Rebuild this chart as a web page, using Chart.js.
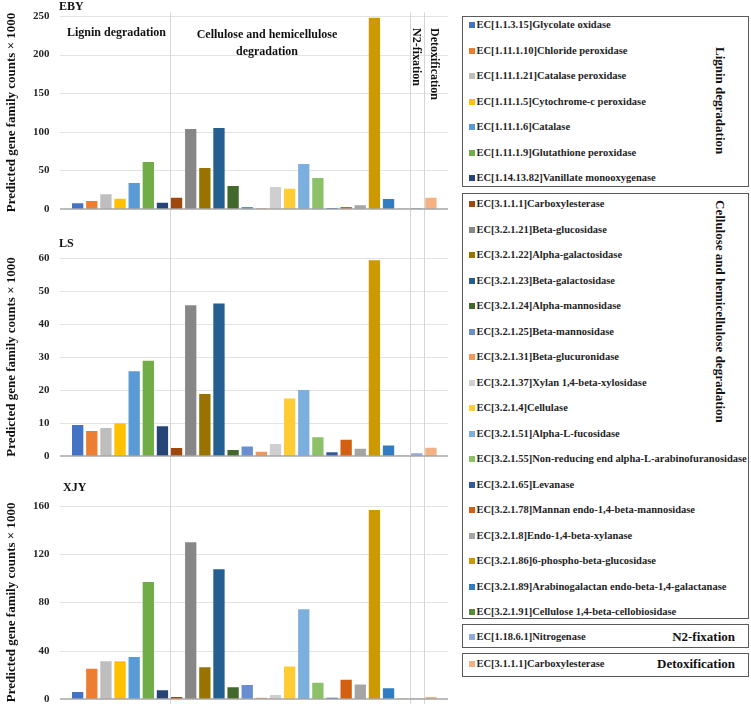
<!DOCTYPE html>
<html>
<head>
<meta charset="utf-8">
<script src="https://cdn.jsdelivr.net/npm/chart.js@4.4.0/dist/chart.umd.min.js"></script>
<style>
  body { margin: 0; background: #fff; width: 751px; height: 704px; position: relative; overflow: hidden; font-family: "Liberation Serif", "Times New Roman", serif; }
  .panel { position: absolute; left: 0; }
  .box { position: absolute; border: 1.3px solid #595959; box-sizing: border-box; }
  .item { position: absolute; height: 12px; line-height: 12px; font-size: 10.5px; font-weight: bold; color: #1f1f1f; white-space: nowrap; }
  .sq { position: absolute; width: 6px; height: 6px; }
  .glabel { position: absolute; font-size: 13px; font-weight: bold; color: #111; white-space: nowrap; line-height: 13px; }
  .vert { writing-mode: vertical-rl; }
</style>
</head>
<body>
<div class="panel" style="top:0"><canvas id="chartEBY" width="455" height="220"></canvas></div>
<div class="panel" style="top:220px"><canvas id="chartLS" width="455" height="240"></canvas></div>
<div class="panel" style="top:460px"><canvas id="chartXJY" width="455" height="244"></canvas></div>
<div id="legend"></div>

<script>
// enzyme categories (x axis order), grouped by function
const ligninEnzymes = [
  'EC[1.1.3.15]Glycolate oxidase',
  'EC[1.11.1.10]Chloride peroxidase',
  'EC[1.11.1.21]Catalase peroxidase',
  'EC[1.11.1.5]Cytochrome-c peroxidase',
  'EC[1.11.1.6]Catalase',
  'EC[1.11.1.9]Glutathione peroxidase',
  'EC[1.14.13.82]Vanillate monooxygenase'
];
const celluloseEnzymes = [
  'EC[3.1.1.1]Carboxylesterase',
  'EC[3.2.1.21]Beta-glucosidase',
  'EC[3.2.1.22]Alpha-galactosidase',
  'EC[3.2.1.23]Beta-galactosidase',
  'EC[3.2.1.24]Alpha-mannosidase',
  'EC[3.2.1.25]Beta-mannosidase',
  'EC[3.2.1.31]Beta-glucuronidase',
  'EC[3.2.1.37]Xylan 1,4-beta-xylosidase',
  'EC[3.2.1.4]Cellulase',
  'EC[3.2.1.51]Alpha-L-fucosidase',
  'EC[3.2.1.55]Non-reducing end alpha-L-arabinofuranosidase',
  'EC[3.2.1.65]Levanase',
  'EC[3.2.1.78]Mannan endo-1,4-beta-mannosidase',
  'EC[3.2.1.8]Endo-1,4-beta-xylanase',
  'EC[3.2.1.86]6-phospho-beta-glucosidase',
  'EC[3.2.1.89]Arabinogalactan endo-beta-1,4-galactanase',
  'EC[3.2.1.91]Cellulose 1,4-beta-cellobiosidase'
];
const n2Enzymes = ['EC[1.18.6.1]Nitrogenase'];
const detoxEnzymes = ['EC[3.1.1.1]Carboxylesterase'];

const groupNames = ['Lignin degradation', 'Cellulose and hemicellulose degradation', 'N2-fixation', 'Detoxification'];
const groupLists = [ligninEnzymes, celluloseEnzymes, n2Enzymes, detoxEnzymes];
const categories = [].concat(ligninEnzymes, celluloseEnzymes, n2Enzymes, detoxEnzymes);

// predicted gene family counts x 1000
const ebyValues = [7.3, 10.4, 19, 13.4, 33.7, 60.9, 8.2,
  14.7, 103.6, 53.1, 104.9, 29.8, 2.6, 0.9, 28.5, 26.3, 58.3, 40.2, 1.3, 2.6, 4.7, 247.8, 13, 0.3,
  1.2, 14.7];
const lsValues = [9.4, 7.6, 8.5, 9.9, 25.7, 28.9, 9.0,
  2.4, 45.7, 18.8, 46.2, 1.8, 2.9, 1.3, 3.6, 17.4, 20.0, 5.7, 1.1, 4.9, 2.2, 59.3, 3.2, 0.1,
  0.8, 2.5];
const xjyValues = [5.8, 25.1, 31.2, 31.2, 34.8, 96.8, 7.2,
  1.7, 129.7, 26.2, 107.3, 9.7, 11.6, 1.1, 3.3, 26.8, 74.2, 13.5, 1.1, 16, 12.1, 156.4, 8.8, 0.2,
  0.5, 1.7];

const ebyTicks = [0, 50, 100, 150, 200, 250];
const lsTicks = [0, 10, 20, 30, 40, 50, 60];
const xjyTicks = [0, 40, 80, 120, 160];

const barColors = [
  '#4472C4', '#ED7D31', '#BEBEBE', '#FFC000', '#5B9BD5', '#70AD47', '#264478',
  '#9E480E', '#878787', '#997300', '#255E91', '#43682B', '#698ED0', '#F1975A',
  '#CFCFCF', '#FFCD33', '#7CAFDD', '#8CC168', '#335AA1', '#D26012', '#A5A5A5',
  '#CC9A00', '#327DC2', '#5A8A39',
  '#8FAADC',
  '#F4B183'
];

const FONT = '"Liberation Serif", "Times New Roman", serif';

function hline(ctx, x1, x2, y) {
  ctx.beginPath(); ctx.moveTo(x1, y); ctx.lineTo(x2, y); ctx.stroke();
}

const panelDecor = {
  id: 'panelDecor',
  beforeDatasetsDraw(chart, args, opts) {
    const { ctx, chartArea: a, scales: { x, y } } = chart;
    ctx.save();
    ctx.strokeStyle = '#E3E3E3';
    ctx.lineWidth = 1;
    y.ticks.forEach(t => {
      if (t.value === 0) return;
      hline(ctx, a.left - 10.6, a.right + 10, Math.round(y.getPixelForValue(t.value)) + 0.5);
    });
    // separators between the functional groups
    ctx.strokeStyle = '#D6D6D6';
    let idx = 0;
    groupLists.slice(0, -1).forEach(list => {
      idx += list.length;
      const px = Math.round((x.getPixelForValue(idx - 1) + x.getPixelForValue(idx)) / 2) + 0.5;
      ctx.beginPath(); ctx.moveTo(px, opts.sepTop); ctx.lineTo(px, chart.height); ctx.stroke();
    });
    ctx.restore();
  },
  afterDatasetsDraw(chart) {
    const { ctx, chartArea: a, scales: { y } } = chart;
    ctx.save();
    ctx.strokeStyle = '#A6A6A6';
    ctx.lineWidth = 1.5;
    hline(ctx, a.left - 10.6, a.right + 10, y.getPixelForValue(0));
    ctx.restore();
  },
  afterDraw(chart, args, opts) {
    const { ctx, scales: { x } } = chart;
    ctx.save();
    ctx.fillStyle = '#111';
    ctx.font = 'bold 12px ' + FONT;
    ctx.textBaseline = 'alphabetic';
    ctx.fillText(opts.title, opts.titleX, opts.titleY);
    if (opts.groupLabels) {
      ctx.textBaseline = 'middle';
      ctx.textAlign = 'left';
      ctx.fillText(groupNames[0], 67, 33);
      ctx.textAlign = 'center';
      ctx.fillText('Cellulose and hemicellulose', 267, 35);
      ctx.fillText('degradation', 267, 52);
      // vertical labels over the single-bar groups
      [[2, 24, -1], [3, 25, 3]].forEach(([g, i, dx]) => {
        ctx.save();
        ctx.translate(x.getPixelForValue(i) + dx, 28);
        ctx.rotate(Math.PI / 2);
        ctx.textAlign = 'left';
        ctx.textBaseline = 'middle';
        ctx.fillText(groupNames[g], 0, 0);
        ctx.restore();
      });
    }
    ctx.restore();
  }
};

function makePanel(id, values, ticks, pad, decor) {
  return new Chart(document.getElementById(id), {
    type: 'bar',
    data: {
      labels: categories,
      datasets: [{
        data: values,
        backgroundColor: barColors,
        borderWidth: 0,
        categoryPercentage: 1,
        barPercentage: 0.8
      }]
    },
    options: {
      responsive: false,
      animation: false,
      layout: { padding: { top: pad[0], bottom: pad[1], left: 0, right: 17 } },
      plugins: {
        legend: { display: false },
        tooltip: { enabled: false },
        panelDecor: decor
      },
      scales: {
        x: { display: false },
        y: {
          min: 0,
          max: ticks[ticks.length - 1],
          afterBuildTicks(scale) { scale.ticks = ticks.map(v => ({ value: v })); },
          afterFit(scale) {
            scale.width = 70.6;
            scale.paddingTop = 0;
            scale.paddingBottom = 0;
          },
          grid: { display: false, drawTicks: false },
          border: { display: false },
          ticks: { padding: 21, color: '#262626', font: { family: FONT, size: 11, weight: 'bold' } },
          title: {
            display: true,
            text: 'Predicted gene family counts \u00d7 1000',
            color: '#111',
            font: { family: FONT, size: 13, weight: 'bold' }
          }
        }
      }
    },
    plugins: [panelDecor]
  });
}

makePanel('chartEBY', ebyValues, ebyTicks, [16, 11], { title: 'EBY', titleX: 59, titleY: 10, sepTop: 12.5, groupLabels: true });
makePanel('chartLS', lsValues, lsTicks, [38, 4], { title: 'LS', titleX: 59, titleY: 26.7, sepTop: 0 });
makePanel('chartXJY', xjyValues, xjyTicks, [45.7, 5], { title: 'XJY', titleX: 63, titleY: 30.7, sepTop: 0 });

// grouped legend on the right
const legend = document.getElementById('legend');
const boxes = [[16, 171], [193, 426], [624, 24], [653, 24]];
const firstItemY = [25, 204, 637, 664];
let colorIdx = 0;
groupLists.forEach((list, g) => {
  const box = document.createElement('div');
  box.className = 'box';
  box.style.cssText = `left:462px;top:${boxes[g][0]}px;width:287px;height:${boxes[g][1]}px`;
  legend.appendChild(box);
  list.forEach((name, k) => {
    const cy = firstItemY[g] + k * 25.5;
    const sq = document.createElement('div');
    sq.className = 'sq';
    sq.style.cssText = `left:469px;top:${cy - 3}px;background:${barColors[colorIdx++]}`;
    legend.appendChild(sq);
    const t = document.createElement('div');
    t.className = 'item';
    t.style.cssText = `left:476.5px;top:${cy - 6}px`;
    t.textContent = name;
    legend.appendChild(t);
  });
  const lab = document.createElement('div');
  lab.className = 'glabel';
  lab.textContent = groupNames[g];
  if (g < 2) {
    lab.classList.add('vert');
    lab.style.cssText = `left:713.5px;top:${g === 0 ? 47 : 200}px`;
  } else {
    lab.style.cssText = `right:${751 - 735}px;top:${firstItemY[g] - 7}px`;
  }
  legend.appendChild(lab);
});
</script>
</body>
</html>
